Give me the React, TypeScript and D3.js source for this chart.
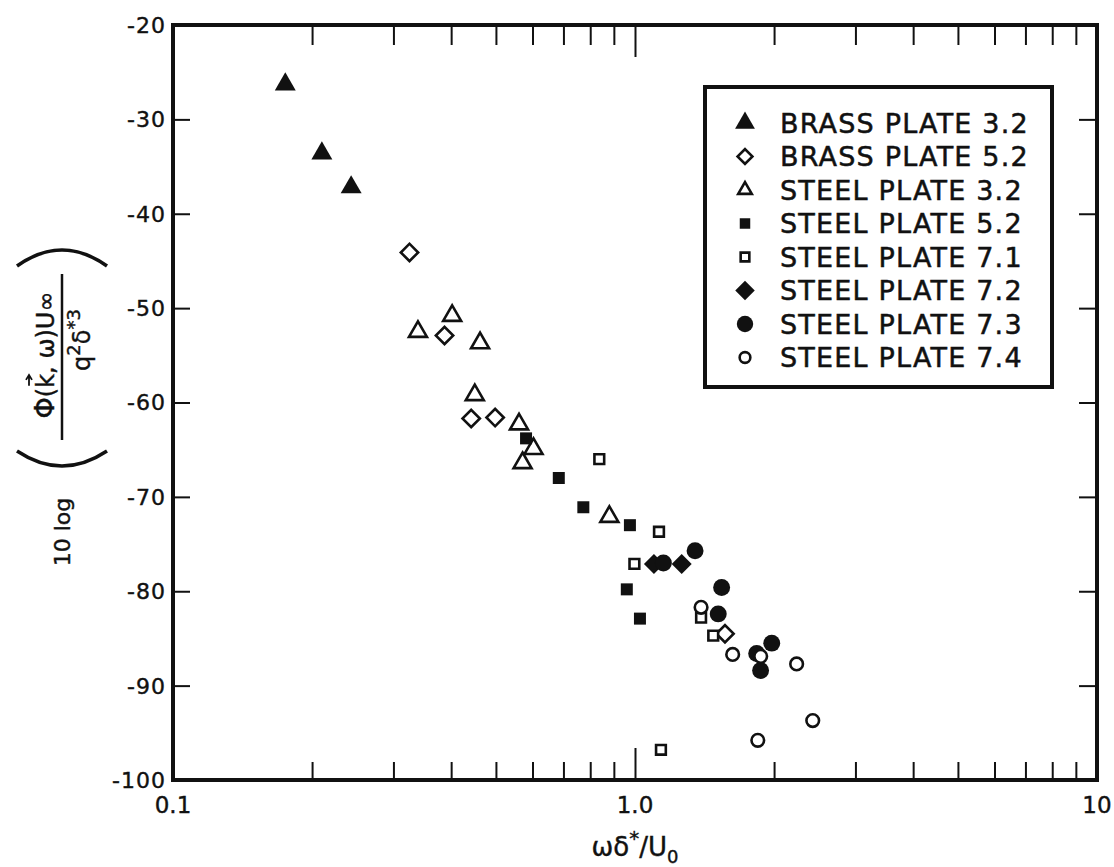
import React, { useEffect, useRef } from "react";
import * as d3 from "d3";

const W = 1114;
const H = 867;
const FONT = "'DejaVu Sans', 'Liberation Sans', sans-serif";

// [omega delta* / U0, 10 log(...)]
const brassPlate32 = [[0.175, -26.3], [0.21, -33.6], [0.243, -37.2]];
const brassPlate52 = [[0.325, -44.1], [0.387, -52.9], [0.442, -61.7], [0.498, -61.6], [1.566, -84.5]];
const steelPlate32 = [
  [0.339, -52.5], [0.402, -50.8], [0.462, -53.7], [0.45, -59.2],
  [0.561, -62.3], [0.603, -64.9], [0.571, -66.4], [0.88, -72.1],
];
const steelPlate52 = [[0.581, -63.8], [0.684, -68.0], [0.773, -71.1], [0.975, -73.0], [0.96, -79.8], [1.025, -82.9]];
const steelPlate71 = [[0.837, -66.0], [1.127, -73.7], [0.997, -77.1], [1.39, -82.8], [1.477, -84.7], [1.138, -96.8]];
const steelPlate72 = [[1.099, -77.1], [1.262, -77.1]];
const steelPlate73 = [[1.349, -75.7], [1.152, -77.0], [1.54, -79.6], [1.514, -82.4], [1.834, -86.6], [1.977, -85.5], [1.87, -88.4]];
const steelPlate74 = [[1.39, -81.7], [1.627, -86.7], [1.871, -86.9], [2.238, -87.7], [2.425, -93.7], [1.844, -95.8]];

const legendLabels = [
  "BRASS PLATE 3.2", "BRASS PLATE 5.2", "STEEL PLATE 3.2", "STEEL PLATE 5.2",
  "STEEL PLATE 7.1", "STEEL PLATE 7.2", "STEEL PLATE 7.3", "STEEL PLATE 7.4",
];

const xTickValues = [0.1, 0.2, 0.3, 0.4, 0.5, 0.6, 0.7, 0.8, 0.9, 1, 2, 3, 4, 5, 6, 7, 8, 9, 10];
const xLabelValues = [0.1, 1, 10];
const xLabelText = ["0.1", "1.0", "10"];
const yTickValues = [-20, -30, -40, -50, -60, -70, -80, -90, -100];

export default function App() {
  const ref = useRef<SVGSVGElement>(null);

  useEffect(() => {
    const svg = d3.select(ref.current);
    svg.selectAll("*").remove();

    const x = d3.scaleLog().domain([0.1, 10]).range([173, 1097]);
    const y = d3.scaleLinear().domain([-100, -20]).range([780, 25]);

    svg.append("rect").attr("width", W).attr("height", H).attr("fill", "#fff");

    // marker kinds, one per series (same order as legend)
    const series = [
      { data: brassPlate32, type: d3.symbolTriangle, rot: 0, filled: true, size: 190, lsize: 170 },
      { data: brassPlate52, type: d3.symbolSquare, rot: 45, filled: false, size: 150, lsize: 110 },
      { data: steelPlate32, type: d3.symbolTriangle, rot: 0, filled: false, size: 140, lsize: 80 },
      { data: steelPlate52, type: d3.symbolSquare, rot: 0, filled: true, size: 144, lsize: 110 },
      { data: steelPlate71, type: d3.symbolSquare, rot: 0, filled: false, size: 95, lsize: 75 },
      { data: steelPlate72, type: d3.symbolSquare, rot: 45, filled: true, size: 200, lsize: 190 },
      { data: steelPlate73, type: d3.symbolCircle, rot: 0, filled: true, size: 225, lsize: 210 },
      { data: steelPlate74, type: d3.symbolCircle, rot: 0, filled: false, size: 125, lsize: 90 },
    ];

    const styleMarker = (sel, s) =>
      sel
        .attr("fill", s.filled ? "#111" : "#fff")
        .attr("stroke", "#111")
        .attr("stroke-width", s.filled ? 0 : 2.6)
        .attr("stroke-linejoin", "miter");

    // ticks (inward on all four sides)
    const tickStyle = (g) => {
      g.select(".domain").remove();
      g.selectAll("line").attr("stroke", "#111").attr("stroke-width", 2);
      g.selectAll("text").remove();
    };
    const bottomAx = svg.append("g").attr("transform", `translate(0,${y(-100)})`)
      .call(d3.axisBottom(x).tickValues(xTickValues).tickSize(-18).tickFormat(() => ""))
      .call(tickStyle);
    bottomAx.selectAll(".tick line").filter((d) => d === 1).attr("y2", -32);
    const topAx = svg.append("g").attr("transform", `translate(0,${y(-20)})`)
      .call(d3.axisTop(x).tickValues(xTickValues).tickSize(-20).tickFormat(() => ""))
      .call(tickStyle);
    topAx.selectAll(".tick line").filter((d) => d === 1).attr("y2", 32);
    svg.append("g").attr("transform", `translate(${x(0.1)},0)`)
      .call(d3.axisLeft(y).tickValues(yTickValues.slice(1, -1)).tickSize(-17).tickFormat(() => ""))
      .call(tickStyle);
    svg.append("g").attr("transform", `translate(${x(10)},0)`)
      .call(d3.axisRight(y).tickValues(yTickValues.slice(1, -1)).tickSize(-18).tickFormat(() => ""))
      .call(tickStyle);

    // frame
    svg.append("rect")
      .attr("x", x(0.1)).attr("y", y(-20))
      .attr("width", x(10) - x(0.1)).attr("height", y(-100) - y(-20))
      .attr("fill", "none").attr("stroke", "#111").attr("stroke-width", 4);

    // tick labels
    svg.append("g").selectAll("text").data(yTickValues).join("text")
      .attr("x", 166).attr("y", (d) => y(d)).attr("dy", "0.36em")
      .attr("text-anchor", "end").attr("font-family", FONT).attr("font-size", 22)
      .attr("letter-spacing", 1).attr("fill", "#111")
      .attr("stroke", "#111").attr("stroke-width", 0.4)
      .text((d) => d);
    svg.append("g").selectAll("text").data(xLabelValues).join("text")
      .attr("x", (d) => x(d)).attr("y", 813)
      .attr("text-anchor", "middle").attr("font-family", FONT).attr("font-size", 23)
      .attr("fill", "#111").attr("stroke", "#111").attr("stroke-width", 0.4)
      .text((d, i) => xLabelText[i]);

    // x title
    const xt = svg.append("text").attr("x", 635).attr("y", 856)
      .attr("text-anchor", "middle").attr("font-family", FONT).attr("font-size", 26)
      .attr("fill", "#111").attr("stroke", "#111").attr("stroke-width", 0.4);
    xt.append("tspan").text("ωδ");
    xt.append("tspan").attr("dy", -11).attr("font-size", 20).text("*");
    xt.append("tspan").attr("dy", 11).text("/U");
    xt.append("tspan").attr("dy", 7).attr("font-size", 18).text("0");

    // y title
    const yt = svg.append("g").attr("fill", "#111").attr("font-family", FONT);
    yt.append("g").attr("transform", "translate(70,532) rotate(-90)")
      .append("text").attr("text-anchor", "middle").attr("font-size", 22)
      .attr("stroke", "#111").attr("stroke-width", 0.4).text("10 log");
    yt.append("path").attr("d", "M17,266 Q62,234 107,266")
      .attr("fill", "none").attr("stroke", "#111").attr("stroke-width", 3.5);
    yt.append("path").attr("d", "M17,451 Q62,481 107,451")
      .attr("fill", "none").attr("stroke", "#111").attr("stroke-width", 3.5);
    const frac = yt.append("g").attr("transform", "translate(62,357) rotate(-90)");
    frac.append("line").attr("x1", -83).attr("x2", 83)
      .attr("stroke", "#111").attr("stroke-width", 2.5);
    const num = frac.append("text").attr("x", 2).attr("y", -8)
      .attr("text-anchor", "middle").attr("font-size", 24)
      .attr("stroke", "#111").attr("stroke-width", 0.4);
    num.append("tspan").attr("font-size", 27).text("Φ");
    num.append("tspan").text("(k, ω)U∞");
    const den = frac.append("text").attr("x", 17).attr("y", 28)
      .attr("text-anchor", "middle").attr("font-size", 24)
      .attr("stroke", "#111").attr("stroke-width", 0.4);
    den.append("tspan").text("q");
    den.append("tspan").attr("dy", -10).attr("font-size", 18).text("2");
    den.append("tspan").attr("dy", 10).text("δ");
    den.append("tspan").attr("dy", -10).attr("font-size", 18).text("*3");
    // vector arrow over k
    const numEl = num.node() as SVGTextElement;
    try {
      const ext = numEl.getExtentOfChar(2);
      const ax0 = ext.x + 2, ax1 = ext.x + ext.width - 1, ay = ext.y - 3;
      frac.append("path")
        .attr("d", `M${ax0},${ay} L${ax1},${ay} M${ax1 - 5},${ay - 3} L${ax1},${ay} L${ax1 - 5},${ay + 3}`)
        .attr("fill", "none").attr("stroke", "#111").attr("stroke-width", 1.8);
    } catch (e) {
      // ignore
    }

    // data points
    series.forEach((s) => {
      const path = d3.symbol().type(s.type).size(s.size)();
      svg.append("g").selectAll("path").data(s.data).join("path")
        .attr("d", path)
        .attr("transform", (d) => `translate(${x(d[0])},${y(d[1])}) rotate(${s.rot})`)
        .call(styleMarker, s);
    });

    // legend
    const lg = svg.append("g");
    lg.append("rect").attr("x", 705).attr("y", 87).attr("width", 347).attr("height", 300)
      .attr("fill", "#fff").attr("stroke", "#111").attr("stroke-width", 4);
    const rows = lg.selectAll("g.row").data(series).join("g")
      .attr("transform", (d, i) => `translate(745,${123 + i * 33.5})`);
    rows.append("path")
      .attr("d", (s) => d3.symbol().type(s.type).size(s.lsize)())
      .attr("transform", (s) => `rotate(${s.rot})`)
      .each(function (s) { styleMarker(d3.select(this), s); });
    rows.append("text")
      .attr("x", 35).attr("dy", "0.36em")
      .attr("font-family", FONT).attr("font-size", 27).attr("letter-spacing", 1.2)
      .attr("fill", "#111").attr("stroke", "#111").attr("stroke-width", 0.5)
      .text((d, i) => legendLabels[i]);
  }, []);

  return (
    <svg ref={ref} width={W} height={H}
      style={{ position: "absolute", left: 0, top: 0, background: "#fff" }} />
  );
}
